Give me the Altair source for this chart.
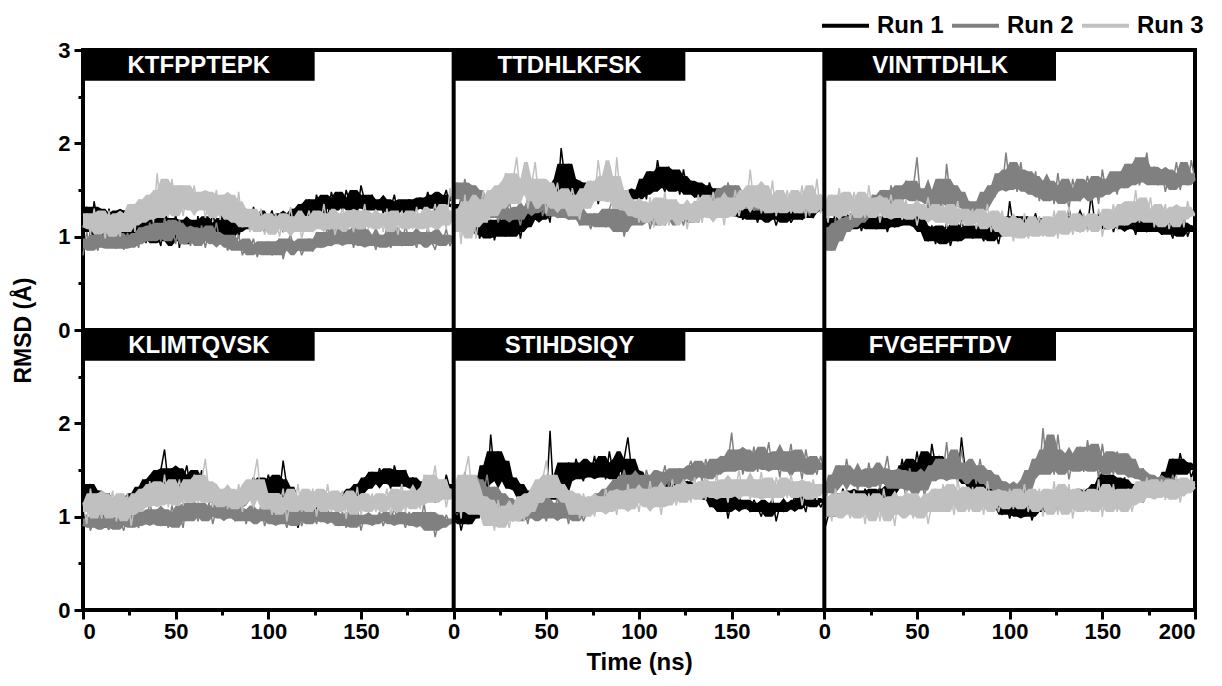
import altair as alt
import pandas as pd

FONT = "Liberation Sans"

TIME = list(range(0, 201, 2))
PEPTIDES = ["KTFPPTEPK", "TTDHLKFSK", "VINTTDHLK", "KLIMTQVSK", "STIHDSIQY", "FVGEFFTDV"]
RUNS = ["Run 1", "Run 2", "Run 3"]
RUN_COLORS = ["#000000", "#808080", "#c0c0c0"]

# ---- KTFPPTEPK ----
p1_run1 = [1.05, 1.32, 0.98, 1.38, 1.12, 1.25, 0.95, 1.30, 1.08, 1.22,
           0.92, 1.28, 1.10, 1.35, 0.97, 1.18, 1.26, 0.93, 1.15, 1.30,
           1.02, 0.90, 1.20, 1.08, 0.95, 1.25, 0.88, 1.12, 1.00, 1.18,
           0.92, 1.22, 1.05, 1.15, 0.97, 1.28, 1.02, 1.10, 0.94, 1.20,
           1.05, 1.30, 1.00, 1.15, 1.25, 1.08, 1.32, 1.12, 1.20, 1.05,
           1.18, 1.28, 1.10, 1.22, 1.05, 1.25, 1.15, 1.30, 1.20, 1.35,
           1.25, 1.40, 1.22, 1.45, 1.30, 1.38, 1.20, 1.48, 1.32, 1.42,
           1.28, 1.50, 1.35, 1.42, 1.25, 1.55, 1.38, 1.30, 1.45, 1.28,
           1.40, 1.25, 1.38, 1.30, 1.45, 1.22, 1.35, 1.28, 1.40, 1.25,
           1.33, 1.42, 1.30, 1.48, 1.35, 1.28, 1.45, 1.38, 1.50, 1.32,
           1.40]
p1_run2 = [0.80, 1.05, 0.88, 0.98, 0.85, 1.02, 0.90, 0.95, 1.05, 0.87,
           0.98, 0.86, 1.04, 0.92, 1.00, 0.88, 1.10, 0.95, 1.15, 0.98,
           1.12, 0.95, 1.20, 1.02, 1.15, 0.92, 1.18, 1.05, 1.10, 0.90,
           1.08, 0.95, 1.12, 0.88, 1.05, 0.98, 1.15, 0.92, 1.02, 0.85,
           0.95, 0.88, 1.02, 0.80, 0.92, 0.85, 0.98, 0.78, 0.90, 0.82,
           0.95, 0.80, 0.88, 0.98, 0.76, 0.92, 1.02, 0.85, 0.95, 0.80,
           0.90, 0.98, 0.84, 1.05, 0.88, 0.95, 1.10, 0.90, 1.02, 0.95,
           1.15, 0.92, 1.05, 0.88, 1.08, 0.95, 1.12, 0.90, 1.00, 0.86,
           1.02, 0.94, 1.10, 0.88, 0.98, 1.05, 0.90, 1.12, 0.95, 1.00,
           0.88, 1.05, 0.92, 1.10, 0.95, 0.86, 1.02, 0.94, 1.08, 0.90,
           1.00]
p1_run3 = [1.10, 1.25, 1.02, 1.30, 1.08, 1.20, 0.98, 1.28, 1.05, 1.22,
           1.00, 1.25, 1.12, 1.35, 1.05, 1.40, 1.18, 1.30, 1.45, 1.15,
           1.68, 1.25, 1.50, 1.20, 1.62, 1.30, 1.55, 1.22, 1.45, 1.35,
           1.55, 1.28, 1.48, 1.20, 1.40, 1.32, 1.50, 1.18, 1.45, 1.25,
           1.38, 1.15, 1.48, 1.10, 1.30, 1.05, 1.22, 1.12, 1.30, 1.02,
           1.20, 1.08, 1.25, 1.00, 1.18, 1.10, 1.32, 1.05, 1.22, 0.98,
           1.15, 1.28, 1.05, 1.22, 1.12, 1.35, 1.08, 1.25, 1.02, 1.18,
           1.30, 1.10, 1.22, 1.05, 1.28, 1.15, 1.35, 1.08, 1.20, 1.12,
           1.25, 1.05, 1.30, 1.12, 1.18, 1.02, 1.28, 1.15, 1.22, 1.08,
           1.32, 1.10, 1.25, 1.05, 1.20, 1.35, 1.12, 1.28, 1.08, 1.52,
           1.20]

# ---- TTDHLKFSK ----
p2_run1 = [1.35, 1.20, 1.42, 1.28, 1.15, 1.05, 1.22, 0.98, 1.10, 1.02,
           1.18, 0.96, 1.12, 1.25, 1.00, 1.15, 1.05, 1.28, 0.98, 1.20,
           1.10, 1.32, 1.18, 1.35, 1.22, 1.30, 1.15, 1.55, 1.40, 1.95,
           1.62, 1.78, 1.50, 1.45, 1.60, 1.38, 1.52, 1.42, 1.58, 1.35,
           1.55, 1.42, 1.68, 1.45, 1.38, 1.52, 1.40, 1.48, 1.35, 1.50,
           1.45, 1.62, 1.40, 1.70, 1.52, 1.82, 1.58, 1.48, 1.75, 1.55,
           1.65, 1.45, 1.72, 1.50, 1.60, 1.42, 1.55, 1.48, 1.40, 1.58,
           1.45, 1.35, 1.52, 1.30, 1.42, 1.28, 1.22, 1.35, 1.18, 1.30,
           1.20, 1.28, 1.15, 1.32, 1.22, 1.18, 1.26, 1.12, 1.25, 1.20,
           1.28, 1.15, 1.22, 1.30, 1.18, 1.25, 1.40, 1.20, 1.35, 1.28,
           1.30]
p2_run2 = [1.40, 1.58, 1.35, 1.62, 1.42, 1.55, 1.30, 1.50, 1.25, 1.40,
           1.20, 1.35, 1.15, 1.30, 1.22, 1.38, 1.18, 1.28, 1.12, 1.32,
           1.25, 1.42, 1.30, 1.45, 1.22, 1.38, 1.28, 1.35, 1.20, 1.40,
           1.30, 1.18, 1.35, 1.25, 1.12, 1.30, 1.20, 1.08, 1.25, 1.15,
           1.22, 1.10, 1.30, 1.40, 1.05, 1.25, 1.00, 1.18, 1.12, 1.28,
           1.20, 1.15, 1.30, 1.08, 1.25, 1.18, 1.35, 1.12, 1.22, 1.30,
           1.18, 1.25, 1.12, 1.30, 1.20, 1.38, 1.15, 1.28, 1.22, 1.35,
           1.28, 1.45, 1.52, 1.38, 1.58, 1.42, 1.55, 1.35, 1.48, 1.30,
           1.40, 1.28, 1.35, 1.42, 1.25, 1.38, 1.30, 1.45, 1.32, 1.40,
           1.28, 1.38, 1.25, 1.42, 1.30, 1.35, 1.22, 1.40, 1.30, 1.45,
           1.35]
p2_run3 = [1.05, 1.30, 0.92, 1.45, 1.10, 1.38, 0.98, 1.25, 1.50, 1.15,
           1.40, 1.22, 1.55, 1.30, 1.68, 1.35, 1.60, 1.85, 1.45, 1.62,
           1.30, 1.55, 1.80, 1.38, 1.62, 1.25, 1.48, 1.35, 1.58, 1.30,
           1.45, 1.22, 1.52, 1.35, 1.18, 1.42, 1.30, 1.60, 1.40, 1.82,
           1.50, 1.38, 1.65, 1.30, 1.85, 1.42, 1.28, 1.50, 1.22, 1.38,
           1.15, 1.32, 1.20, 1.42, 1.10, 1.35, 1.25, 1.48, 1.12, 1.30,
           1.40, 1.18, 1.35, 1.08, 1.30, 1.22, 1.45, 1.15, 1.38, 1.25,
           1.48, 1.20, 1.35, 1.12, 1.42, 1.28, 1.50, 1.22, 1.40, 1.32,
           1.72, 1.35, 1.55, 1.25, 1.45, 1.30, 1.60, 1.22, 1.40, 1.28,
           1.50, 1.25, 1.42, 1.32, 1.55, 1.20, 1.45, 1.30, 1.62, 1.25,
           1.40]

# ---- VINTTDHLK ----
p3_run1 = [0.88, 1.20, 1.05, 1.28, 1.12, 1.18, 1.08, 1.25, 1.10, 1.22,
           1.06, 1.20, 1.12, 1.28, 1.08, 1.15, 1.22, 1.05, 1.18, 1.10,
           1.25, 1.12, 1.30, 1.15, 1.22, 1.35, 1.10, 1.05, 0.95, 1.12,
           0.92, 1.08, 0.98, 1.15, 0.90, 1.05, 0.95, 1.18, 1.02, 1.10,
           0.98, 1.12, 1.05, 0.95, 1.15, 1.00, 1.08, 0.92, 1.12, 1.02,
           1.38, 1.10, 1.22, 1.05, 1.15, 1.00, 1.12, 1.25, 1.05, 1.18,
           1.10, 1.20, 1.02, 1.15, 1.22, 1.08, 1.30, 1.12, 1.18, 1.05,
           1.20, 1.10, 1.45, 1.15, 1.08, 1.22, 1.12, 1.25, 1.05, 1.18,
           1.12, 1.22, 1.08, 1.15, 1.02, 1.20, 1.10, 1.05, 1.18, 1.08,
           1.15, 1.02, 1.20, 1.10, 0.98, 1.15, 1.05, 1.22, 1.00, 1.12,
           1.05]
p3_run2 = [0.78, 1.10, 0.85, 1.20, 0.95, 1.15, 1.05, 1.22, 1.10, 1.28,
           1.15, 1.32, 1.20, 1.45, 1.28, 1.38, 1.50, 1.30, 1.55, 1.40,
           1.48, 1.35, 1.60, 1.42, 1.52, 1.85, 1.38, 1.45, 1.30, 1.50,
           1.35, 1.62, 1.28, 1.78, 1.40, 1.55, 1.32, 1.48, 1.25, 1.38,
           1.30, 1.22, 1.35, 1.28, 1.48, 1.55, 1.42, 1.68, 1.50, 1.90,
           1.55, 1.72, 1.48, 1.80, 1.52, 1.65, 1.45, 1.70, 1.38, 1.60,
           1.42, 1.55, 1.35, 1.68, 1.40, 1.52, 1.30, 1.62, 1.45, 1.38,
           1.50, 1.65, 1.42, 1.58, 1.35, 1.72, 1.48, 1.55, 1.62, 1.45,
           1.70, 1.52, 1.78, 1.58, 1.85, 1.55, 1.68, 1.90, 1.60, 1.75,
           1.55, 1.72, 1.48, 1.65, 1.58, 1.80, 1.50, 1.68, 1.55, 1.82,
           1.60]
p3_run3 = [1.35, 1.15, 1.45, 1.22, 1.52, 1.28, 1.40, 1.18, 1.48, 1.30,
           1.38, 1.20, 1.55, 1.25, 1.42, 1.15, 1.35, 1.28, 1.45, 1.20,
           1.32, 1.18, 1.40, 1.22, 1.35, 1.12, 1.30, 1.25, 1.42, 1.18,
           1.28, 1.15, 1.35, 1.10, 1.30, 1.22, 1.38, 1.12, 1.25, 1.18,
           1.30, 1.08, 1.25, 1.15, 1.35, 1.05, 1.22, 1.12, 1.28, 1.00,
           1.20, 0.95, 1.15, 1.05, 1.25, 0.98, 1.12, 1.02, 1.22, 1.00,
           1.15, 1.05, 1.28, 0.98, 1.20, 1.08, 1.32, 1.02, 1.18, 1.10,
           1.25, 1.05, 1.20, 1.12, 1.30, 1.00, 1.22, 1.15, 1.35, 1.08,
           1.28, 1.12, 1.38, 1.18, 1.50, 1.15, 1.30, 1.22, 1.42, 1.10,
           1.28, 1.15, 1.35, 1.08, 1.25, 1.18, 1.32, 1.10, 1.38, 1.22,
           1.25]

# ---- KLIMTQVSK ----
p4_run1 = [1.40, 1.18, 1.35, 0.90, 1.28, 1.10, 0.88, 1.25, 1.05, 1.20,
           1.02, 1.18, 1.10, 1.25, 1.15, 1.32, 1.22, 1.40, 1.28, 1.45,
           1.30, 1.50, 1.72, 1.35, 1.52, 1.28, 1.45, 1.38, 1.55, 1.30,
           1.42, 1.25, 1.50, 1.20, 1.35, 1.15, 1.28, 1.10, 1.22, 1.05,
           1.20, 1.12, 1.25, 1.08, 1.18, 1.30, 1.42, 1.28, 1.38, 1.25,
           1.45, 1.30, 1.40, 1.25, 1.60, 1.32, 1.20, 1.12, 0.88, 1.05,
           1.18, 1.08, 1.22, 1.12, 1.28, 1.05, 1.20, 1.15, 1.25, 1.10,
           1.22, 1.12, 1.30, 1.18, 1.35, 1.25, 1.42, 1.30, 1.48, 1.35,
           1.52, 1.38, 1.45, 1.30, 1.55, 1.40, 1.32, 1.50, 1.36, 1.42,
           1.30, 1.25, 1.38, 1.20, 1.28, 1.15, 1.35, 1.22, 1.45, 1.30,
           1.35]
p4_run2 = [0.90, 1.02, 0.85, 0.98, 0.88, 1.05, 0.92, 0.86, 1.00, 0.90,
           0.95, 0.85, 1.02, 0.90, 0.98, 0.88, 1.05, 0.92, 1.15, 0.98,
           1.08, 0.90, 1.02, 0.88, 1.12, 0.95, 1.05, 0.88, 1.15, 1.00,
           1.18, 0.95, 1.10, 1.00, 1.15, 0.92, 1.08, 1.02, 1.20, 0.98,
           1.10, 0.95, 1.05, 1.15, 0.92, 1.08, 1.00, 0.95, 1.12, 0.90,
           1.02, 0.95, 1.08, 0.92, 1.00, 0.88, 1.05, 0.95, 1.10, 0.90,
           1.02, 0.96, 1.08, 0.92, 1.05, 0.98, 1.10, 0.94, 1.02, 0.90,
           1.05, 0.88, 1.00, 0.95, 1.08, 0.85, 1.02, 0.92, 1.00, 0.95,
           1.05, 0.90, 1.02, 0.95, 1.10, 0.92, 1.00, 0.88, 1.05, 0.95,
           1.02, 0.90, 1.15, 0.85, 1.05, 0.78, 0.95, 0.88, 1.02, 0.92,
           0.98]
p4_run3 = [1.15, 0.92, 1.30, 1.05, 1.25, 0.98, 1.20, 1.08, 1.28, 0.95,
           1.18, 1.02, 1.25, 0.90, 1.15, 1.05, 1.30, 1.10, 1.38, 1.12,
           1.35, 1.15, 1.45, 1.10, 1.32, 1.20, 1.40, 1.12, 1.28, 1.18,
           1.45, 1.15, 1.38, 1.62, 1.25, 1.10, 1.35, 1.15, 1.30, 1.08,
           1.25, 1.12, 1.35, 1.05, 1.28, 1.18, 1.40, 1.62, 1.20, 1.08,
           1.25, 1.02, 1.18, 1.10, 1.30, 0.95, 1.20, 1.08, 1.35, 1.05,
           1.22, 1.12, 1.30, 1.00, 1.25, 1.10, 1.35, 1.05, 1.20, 1.12,
           1.28, 0.98, 1.22, 1.08, 1.32, 1.02, 1.18, 1.10, 1.25, 1.05,
           1.20, 1.10, 1.30, 1.02, 1.22, 1.15, 1.35, 1.05, 1.28, 1.12,
           1.25, 1.08, 1.45, 1.15, 1.32, 1.55, 1.18, 1.40, 1.10, 1.30,
           1.20]

# ---- STIHDSIQY ----
p5_run1 = [0.95, 1.08, 0.85, 1.02, 0.92, 1.10, 0.98, 1.35, 1.55, 1.30,
           1.88, 1.45, 1.70, 1.38, 1.60, 1.30, 1.42, 1.28, 1.35, 1.20,
           1.15, 1.25, 1.10, 1.22, 1.28, 1.18, 1.92, 1.20, 1.25, 1.15,
           1.45, 1.58, 1.40, 1.62, 1.48, 1.38, 1.55, 1.45, 1.65, 1.42,
           1.58, 1.40, 1.70, 1.48, 1.55, 1.38, 1.62, 1.85, 1.50, 1.42,
           1.35, 1.48, 1.30, 1.40, 1.25, 1.38, 1.32, 1.45, 1.28, 1.35,
           1.30, 1.40, 1.25, 1.38, 1.32, 1.22, 1.35, 1.28, 1.18, 1.30,
           1.10, 1.32, 1.05, 1.25, 0.98, 1.18, 1.12, 1.22, 1.08, 1.15,
           1.05, 1.18, 1.10, 1.00, 1.15, 1.08, 1.20, 0.95, 1.12, 1.05,
           1.15, 1.08, 1.22, 1.12, 1.18, 1.05, 1.25, 1.15, 1.20, 1.10,
           1.18]
p5_run2 = [1.15, 1.35, 1.20, 1.48, 1.25, 1.40, 1.10, 1.30, 1.22, 1.45,
           1.18, 1.32, 1.08, 1.25, 1.02, 1.20, 0.95, 1.15, 1.05, 1.10,
           0.92, 1.12, 0.98, 1.20, 1.05, 0.95, 1.15, 1.02, 1.22, 0.98,
           1.10, 0.92, 1.18, 1.00, 1.12, 0.95, 1.05, 1.20, 1.08, 1.25,
           1.15, 1.30, 1.18, 1.40, 1.25, 1.35, 1.50, 1.32, 1.45, 1.28,
           1.42, 1.30, 1.50, 1.35, 1.28, 1.45, 1.38, 1.55, 1.32, 1.48,
           1.40, 1.52, 1.35, 1.48, 1.60, 1.42, 1.55, 1.38, 1.62, 1.45,
           1.55, 1.40, 1.65, 1.48, 1.58, 1.90, 1.50, 1.72, 1.45, 1.62,
           1.52, 1.75, 1.48, 1.68, 1.55, 1.80, 1.50, 1.65, 1.42, 1.70,
           1.55, 1.78, 1.48, 1.62, 1.40, 1.72, 1.50, 1.58, 1.45, 1.65,
           1.50]
p5_run3 = [1.05, 1.30, 0.98, 1.45, 1.65, 1.20, 1.35, 1.02, 1.22, 0.90,
           1.10, 0.85, 1.18, 0.95, 1.05, 0.88, 1.12, 1.00, 1.22, 0.95,
           1.25, 1.05, 1.32, 1.15, 1.40, 1.60, 1.28, 1.45, 1.20, 1.35,
           1.15, 1.28, 1.02, 1.20, 0.98, 1.25, 1.10, 1.18, 1.00, 1.22,
           1.05, 1.30, 1.12, 1.20, 1.02, 1.28, 1.08, 1.35, 1.15, 1.25,
           1.05, 1.30, 1.15, 1.38, 1.10, 1.25, 1.02, 1.32, 1.18, 1.40,
           1.12, 1.28, 1.20, 1.35, 1.15, 1.42, 1.22, 1.30, 1.18, 1.38,
           1.25, 1.45, 1.20, 1.35, 1.15, 1.40, 1.28, 1.50, 1.22, 1.35,
           1.18, 1.40, 1.25, 1.48, 1.20, 1.32, 1.15, 1.42, 1.28, 1.35,
           1.20, 1.45, 1.25, 1.38, 1.12, 1.32, 1.22, 1.40, 1.18, 1.35,
           1.28]

# ---- FVGEFFTDV ----
p6_run1 = [0.85, 1.00, 1.15, 1.25, 1.10, 1.30, 1.18, 1.22, 1.08, 1.28,
           1.15, 1.30, 1.12, 1.25, 1.20, 1.32, 1.18, 1.28, 1.22, 1.35,
           1.40, 1.62, 1.35, 1.55, 1.42, 1.70, 1.45, 1.58, 1.38, 1.78,
           1.55, 1.65, 1.42, 1.60, 1.48, 1.52, 1.40, 1.85, 1.50, 1.35,
           1.28, 1.40, 1.22, 1.35, 1.18, 1.30, 1.25, 1.10, 1.02, 1.15,
           0.98, 1.12, 1.05, 1.20, 1.00, 1.15, 0.96, 1.08, 1.18, 1.05,
           1.22, 1.12, 1.28, 1.05, 1.20, 1.15, 1.30, 1.18, 1.25, 1.10,
           1.22, 1.30, 1.15, 1.28, 1.35, 1.50, 1.30, 1.45, 1.28, 1.40,
           1.32, 1.42, 1.25, 1.35, 1.20, 1.30, 1.15, 1.28, 1.22, 1.32,
           1.25, 1.38, 1.30, 1.48, 1.62, 1.45, 1.68, 1.50, 1.58, 1.42,
           1.55]
p6_run2 = [1.10, 1.30, 1.45, 1.25, 1.55, 1.35, 1.62, 1.40, 1.50, 1.28,
           1.48, 1.32, 1.58, 1.38, 1.52, 1.30, 1.45, 1.65, 1.35, 1.50,
           1.30, 1.45, 1.20, 1.52, 1.35, 1.28, 1.48, 1.22, 1.40, 1.55,
           1.38, 1.62, 1.45, 1.80, 1.40, 1.58, 1.35, 1.72, 1.48, 1.42,
           1.55, 1.35, 1.62, 1.40, 1.50, 1.30, 1.45, 1.25, 1.38, 1.18,
           1.30, 1.15, 1.35, 1.22, 1.40, 1.28, 1.50, 1.62, 1.45, 1.95,
           1.50, 1.72, 1.45, 1.88, 1.55, 1.68, 1.40, 1.62, 1.50, 1.75,
           1.48, 1.82, 1.55, 1.65, 1.42, 1.78, 1.50, 1.60, 1.45, 1.70,
           1.55, 1.68, 1.42, 1.62, 1.48, 1.40, 1.52, 1.35, 1.45, 1.30,
           1.42, 1.28, 1.38, 1.25, 1.45, 1.32, 1.40, 1.22, 1.38, 1.30,
           1.35]
p6_run3 = [1.00, 1.22, 0.95, 1.30, 1.05, 1.25, 1.10, 0.98, 1.28, 1.02,
           1.18, 0.92, 1.25, 1.05, 1.20, 0.95, 1.30, 1.08, 1.15, 0.90,
           1.22, 1.02, 1.28, 1.10, 0.98, 1.25, 1.05, 1.20, 0.92, 1.15,
           1.30, 1.05, 1.35, 1.12, 1.25, 1.02, 1.40, 1.15, 1.28, 1.05,
           1.32, 1.10, 1.25, 1.02, 1.38, 1.15, 1.28, 1.05, 1.20, 1.12,
           1.30, 1.08, 1.25, 1.15, 1.35, 1.05, 1.22, 1.12, 1.30, 1.00,
           1.25, 1.10, 1.38, 1.02, 1.28, 1.15, 1.35, 0.98, 1.22, 1.08,
           1.30, 1.05, 1.25, 1.12, 1.40, 1.00, 1.28, 1.10, 1.35, 1.05,
           1.22, 1.12, 1.30, 1.05, 1.25, 1.38, 1.15, 1.42, 1.20, 1.35,
           1.25, 1.40, 1.18, 1.35, 1.22, 1.45, 1.15, 1.38, 1.25, 1.42,
           1.30]

SERIES = [
    [p1_run1, p1_run2, p1_run3],
    [p2_run1, p2_run2, p2_run3],
    [p3_run1, p3_run2, p3_run3],
    [p4_run1, p4_run2, p4_run3],
    [p5_run1, p5_run2, p5_run3],
    [p6_run1, p6_run2, p6_run3],
]

# ---------------- layout of the 2 x 3 grid on one shared scale ----------------
N_COLS = 3
N_ROWS = 2
T_SPAN = 200
Y_SPAN = 3
BOX_T = 125      # label box width in ns
BOX_H = 0.33     # label box height in RMSD units
HALF_WIN = 3     # neighbours on each side used for the fluctuation core band

rows = []
for p, pep in enumerate(PEPTIDES):
    r, c = divmod(p, N_COLS)
    xoff = T_SPAN * c
    yoff = Y_SPAN * (N_ROWS - 1 - r)
    for run, vals in zip(RUNS, SERIES[p]):
        assert len(vals) == len(TIME), (pep, run, len(vals))
        n = len(vals)
        for i, (t, v) in enumerate(zip(TIME, vals)):
            nb = sorted(vals[max(0, i - HALF_WIN): min(n, i + HALF_WIN + 1)])
            # core of the fluctuation: second-lowest to second-highest neighbour,
            # so isolated extremes stay visible as needles of the trace itself
            rows.append({"peptide": pep, "run": run, "time": t, "rmsd": v,
                         "gx": t + xoff, "gy": v + yoff,
                         "glo": nb[1] + yoff, "ghi": nb[-2] + yoff})
df = pd.DataFrame(rows)

boxes = []
for p, pep in enumerate(PEPTIDES):
    r, c = divmod(p, N_COLS)
    top = Y_SPAN * (N_ROWS - r)
    boxes.append({"peptide": pep, "gx": T_SPAN * c, "gx2": T_SPAN * c + BOX_T,
                  "gy": top - BOX_H, "gy2": top,
                  "tx": T_SPAN * c + BOX_T / 2, "ty": top - BOX_H / 2})
box_df = pd.DataFrame(boxes)

vdiv = pd.DataFrame({"gx": [T_SPAN * c for c in range(1, N_COLS)]})
hdiv = pd.DataFrame({"gy": [Y_SPAN * r for r in range(1, N_ROWS)]})

XMAX = T_SPAN * N_COLS
YMAX = Y_SPAN * N_ROWS
XS = alt.Scale(domain=[0, XMAX], nice=False, zero=False)
YS = alt.Scale(domain=[0, YMAX], nice=False, zero=False)

x_label_expr = (f"datum.value % 50 != 0 ? '' : (datum.value == {XMAX} ? '{T_SPAN}' : "
                f"'' + (datum.value % {T_SPAN}))")
y_label_expr = (f"datum.value % 1 != 0 ? '' : '' + (datum.value > {Y_SPAN} ? datum.value - {Y_SPAN} : "
                f"(datum.value == {Y_SPAN} ? 0 : datum.value))")

X_AXIS = alt.Axis(
    values=list(range(0, XMAX + 1, 25)),
    labelExpr=x_label_expr,
    tickSize=9,
    tickDash={"condition": {"test": "datum.value % 50 != 0", "value": [5, 20]}, "value": [9, 0]},
    title="Time (ns)", grid=False, domain=False,
    labelFontSize=22, titleFontSize=24, labelPadding=2, titlePadding=8,
    labelOverlap=False,
)
Y_AXIS = alt.Axis(
    values=[i * 0.5 for i in range(0, YMAX * 2 + 1)],
    labelExpr=y_label_expr,
    tickSize=9,
    tickDash={"condition": {"test": "datum.value % 1 != 0", "value": [5, 20]}, "value": [9, 0]},
    title="RMSD (Å)", grid=False, domain=False,
    labelFontSize=22, titleFontSize=23, labelPadding=4, titlePadding=22,
    labelOverlap=False,
)

LEGEND = alt.Legend(
    orient="none", legendX=737, legendY=-50, direction="horizontal", title=None,
    symbolType="stroke", symbolSize=2209, symbolStrokeWidth=4,
    labelFontSize=24, labelFontWeight="bold", labelFont=FONT,
    labelOffset=6, columnPadding=0, padding=0,
)
COLOR = alt.Color("run:N", scale=alt.Scale(domain=RUNS, range=RUN_COLORS), legend=LEGEND)

X_ENC = alt.X("gx:Q", scale=XS, axis=X_AXIS)
Y_ENC = alt.Y("gy:Q", scale=YS, axis=Y_AXIS)

series_layers = []
for run in RUNS:
    sub = alt.Chart(df).transform_filter(alt.datum.run == run)
    band = sub.mark_area(opacity=1, interpolate="linear").encode(
        x=X_ENC,
        y=alt.Y("glo:Q", scale=YS, axis=Y_AXIS, stack=None),
        y2="ghi:Q",
        color=COLOR,
        detail="peptide:N",
    )
    line = sub.mark_line(strokeWidth=1.5, strokeJoin="bevel").encode(
        x=X_ENC, y=Y_ENC, color=COLOR, detail="peptide:N", order="time:Q",
    )
    series_layers += [band, line]

vrules = alt.Chart(vdiv).mark_rule(color="black", strokeWidth=4).encode(x=X_ENC)
hrules = alt.Chart(hdiv).mark_rule(color="black", strokeWidth=4).encode(y=Y_ENC)

rects = alt.Chart(box_df).mark_rect(color="black").encode(
    x=X_ENC, x2="gx2:Q", y=Y_ENC, y2="gy2:Q")

texts = alt.Chart(box_df).mark_text(
    color="white", font=FONT, fontSize=24, fontWeight="bold",
    align="center", baseline="middle", dy=1,
).encode(
    x=alt.X("tx:Q", scale=XS, axis=X_AXIS),
    y=alt.Y("ty:Q", scale=YS, axis=Y_AXIS),
    text="peptide:N")

chart = alt.layer(*series_layers, vrules, hrules, rects, texts).properties(
    width=1112, height=560,
    autosize=alt.AutoSizeParams(type="none"),
    padding={"left": 75, "top": 42, "right": 19, "bottom": 68},
).configure_view(
    stroke="black", strokeWidth=4
).configure_axis(
    labelFont=FONT, titleFont=FONT, labelFontWeight="bold", titleFontWeight="bold",
    labelColor="black", titleColor="black", tickColor="black", tickWidth=3,
)

chart.save("out.html", embed_options={"renderer": "svg", "actions": False})
